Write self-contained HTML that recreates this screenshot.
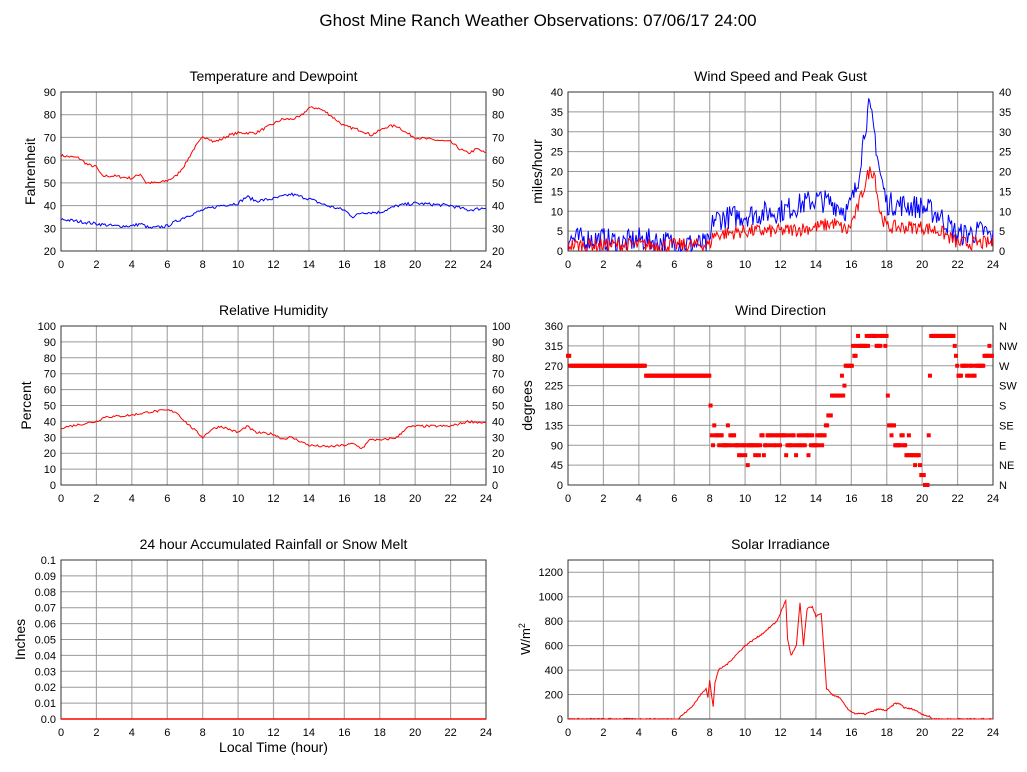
<!DOCTYPE html>
<html><head><meta charset="utf-8">
<style>
html,body{margin:0;padding:0;background:#fff;}
svg{display:block;font-family:"Liberation Sans",sans-serif;}
</style></head>
<body>
<svg id="s" width="1027" height="772" viewBox="0 0 1027 772" xmlns="http://www.w3.org/2000/svg">
<rect width="1027" height="772" fill="#fff"/>
<text x="538" y="26" font-size="17" text-anchor="middle">Ghost Mine Ranch Weather Observations: 07/06/17 24:00</text>
</svg>
<script>
var S=document.getElementById('s'),NS='http://www.w3.org/2000/svg';
function el(t,a,txt){var e=document.createElementNS(NS,t);for(var k in a)e.setAttribute(k,a[k]);if(txt!=null)e.textContent=txt;S.appendChild(e);return e;}
var seed=7;function rnd(){seed=(seed*16807)%2147483647;return seed/2147483647;}
function interp(kp,h){for(var i=0;i<kp.length-1;i++){if(h<=kp[i+1][0]){var a=kp[i],b=kp[i+1];return a[1]+(b[1]-a[1])*(h-a[0])/(b[0]-a[0]);}}return kp[kp.length-1][1];}
function panel(o){
 var x0=o.x,y0=o.y,w=o.w,h=o.h;
 o.X=function(t){return x0+t/24*w};o.Y=function(v){return y0+h-(v-o.min)/(o.max-o.min)*h};
 el('text',{x:x0+w/2,y:y0-11,'font-size':14,'text-anchor':'middle'},o.title);
 for(var t=0;t<=24;t+=2){var xx=o.X(t);if(t>0&&t<24)el('line',{x1:xx,y1:y0,x2:xx,y2:y0+h,stroke:'#aaa','stroke-width':1.2});
  el('text',{x:xx,y:y0+h+17,'font-size':11,'text-anchor':'middle'},t);}
 for(var i=0;i<o.ticks.length;i++){var v=o.ticks[i],yy=o.Y(v);
  if(v>o.min&&v<o.max)el('line',{x1:x0,y1:yy,x2:x0+w,y2:yy,stroke:'#999'});
  var lab=o.labels?o.labels[i]:String(v);
  el('text',{x:x0-5,y:yy+4,'font-size':11,'text-anchor':'end'},lab);
  if(o.right)el('text',{x:x0+w+6,y:yy+4,'font-size':11},o.right[i]!=null?o.right[i]:lab);}
 el('rect',{x:x0,y:y0,width:w,height:h,fill:'none',stroke:'#333'});
 var yl=el('text',{transform:'translate('+(x0-o.yo)+','+(y0+h/2)+') rotate(-90)','font-size':14,'text-anchor':'middle'},o.yl);
 return o;}
function line(o,kp,noise,col,step){var p=[];for(var t=0;t<=24.001;t+=step||0.08){var v=interp(kp,t)+(rnd()-0.5)*noise;if(v<o.min)v=o.min;p.push(o.X(Math.min(t,24)).toFixed(1)+','+o.Y(v).toFixed(1));}
 el('polyline',{points:p.join(' '),fill:'none',stroke:col,'stroke-width':1});}
function rng(a,b,s){var r=[];for(var v=a;v<=b+1e-9;v+=s)r.push(+v.toFixed(3));return r;}

var L=61,R=568,W=425,H=159;
var p1=panel({x:L,y:92,w:W,h:H,min:20,max:90,ticks:rng(20,90,10),right:[],title:'Temperature and Dewpoint',yl:'Fahrenheit',yo:26});
line(p1,[[0,62],[1,61],[1.5,58],[2,57],[2.3,53],[3,53],[4,52],[4.5,54],[4.8,50],[5.5,50],[6,51],[6.5,53],[7,58],[7.5,65],[8,70],[8.3,70],[8.6,68],[9,69],[9.5,71],[10,72],[11,72],[12,76],[12.5,78],[13,78],[13.5,79],[14,83],[14.5,83],[15,81],[15.5,78],[16,75],[17,73],[17.5,71],[18,73],[18.5,75],[19,75],[19.5,72],[20,70],[21,69],[22,68],[22.5,65],[23,63],[23.5,65],[24,63]],1.2,'#f00');
line(p1,[[0,34],[1,33],[2,32],[3,31],[4,31],[4.5,32],[5,30],[6,31],[6.5,33],[7,35],[8,38],[9,40],[10,41],[10.5,44],[11,42],[12,43],[13,45],[14,43],[15,40],[16,38],[16.5,35],[17,37],[18,37],[19,40],[20,41],[22,40],[23,38],[24,39]],1.4,'#00f');

var p2=panel({x:R,y:92,w:W,h:H,min:0,max:40,ticks:rng(0,40,5),right:[],title:'Wind Speed and Peak Gust',yl:'miles/hour',yo:26});
line(p2,[[0,3],[2,3],[3,2],[4,3],[6,2],[8,1.5],[8.2,8],[10,9],[12,10],[14,13],[15,12],[15.8,10],[16.3,16],[16.8,32],[17,36],[17.3,30],[17.6,20],[18,12],[20,11],[21,9],[22,4],[23.5,5],[24,3]],6,'#00f',0.06);
line(p2,[[0,1.5],[8,1.5],[8.2,4],[10,5],[12,5],[14,6],[15,7],[15.8,5],[16.3,10],[17,20],[17.3,20],[17.6,10],[18,6],[20,6],[21,5],[22,2],[24,2]],3.5,'#f00',0.06);

var p3=panel({x:L,y:326,w:W,h:H,min:0,max:100,ticks:rng(0,100,10),right:[],title:'Relative Humidity',yl:'Percent',yo:30});
line(p3,[[0,36],[1,38],[2,40],[2.5,43],[3,43],[4,44],[5,46],[6,47],[6.5,46],[7,40],[7.5,35],[8,30],[8.5,35],[9,37],[9.5,35],[10,33],[10.5,37],[11,33],[12,32],[12.5,29],[13,30],[14,25],[15,24],[16,25],[16.5,26],[17,23],[17.5,29],[18,28],[19,30],[19.5,36],[20,37],[22,37],[23,40],[24,39]],1.5,'#f00');

var p4=panel({x:R,y:326,w:W,h:H,min:0,max:360,ticks:rng(0,360,45),labels:null,right:['N','NE','E','SE','S','SW','W','NW','N'],title:'Wind Direction',yl:'degrees',yo:36});
var dk=[[0,300],[0.1,270],[8,255],[8.1,110],[9.5,100],[9.6,70],[10.5,80],[11,95],[14,100],[14.3,110],[15,180],[15.5,230],[16,290],[16.5,320],[17.5,330],[18,330],[18.1,120],[19,100],[19.5,80],[20,30],[20.3,0],[20.5,340],[21.8,330],[22,260],[23,260],[23.7,300],[24,300]];
for(var t=0;t<=24;t+=0.07){var v=interp(dk,t)+(rnd()-0.5)*(t>8&&t<20?50:15);if(t>0.2&&t<8)v=t<4.4?270:250;v=Math.round(v/22.5)*22.5;if(v<0)v=0;if(v>337.5)v=337.5;
 el('rect',{x:p4.X(t)-2,y:p4.Y(v)-2,width:4,height:4,fill:'#f00'});}

var p5=panel({x:L,y:560,w:W,h:H,min:0,max:0.1,ticks:rng(0,0.1,0.01),labels:['0.0','0.01','0.02','0.03','0.04','0.05','0.06','0.07','0.08','0.09','0.1'],title:'24 hour Accumulated Rainfall or Snow Melt',yl:'Inches',yo:36});
el('line',{x1:L,y1:719,x2:L+W,y2:719,stroke:'#f00','stroke-width':1.5});
el('text',{x:L+W/2,y:752,'font-size':14,'text-anchor':'middle'},'Local Time (hour)');

var p6=panel({x:R,y:560,w:W,h:H,min:0,max:1300,ticks:rng(0,1200,200),title:'Solar Irradiance',yl:'',yo:40});
var yl=el('text',{transform:'translate(530,639) rotate(-90)','font-size':13,'text-anchor':'middle'},'W/m');
var ts=document.createElementNS(NS,'tspan');ts.setAttribute('dy','-5');ts.setAttribute('font-size','9');ts.textContent='2';yl.appendChild(ts);
line(p6,[[0,0],[6.2,0],[6.6,50],[7,100],[7.5,200],[7.8,250],[7.9,180],[8,320],[8.1,200],[8.2,100],[8.3,300],[8.5,400],[9,450],[10,600],[11,700],[11.8,800],[12.3,970],[12.4,650],[12.6,520],[12.9,600],[13.1,950],[13.3,600],[13.5,900],[13.8,920],[14,840],[14.3,860],[14.6,250],[15,190],[15.3,180],[15.8,80],[16.2,45],[16.8,40],[17.5,80],[18,70],[18.5,130],[18.8,120],[19,90],[19.5,80],[20,40],[20.4,20],[20.6,0],[24,0]],12,'#f00',0.05);
</script>
</body></html>
